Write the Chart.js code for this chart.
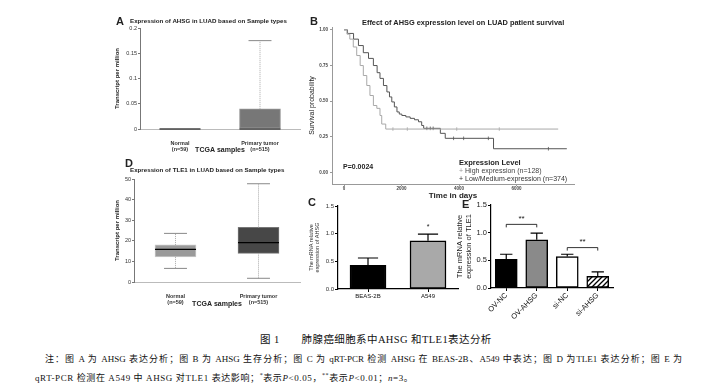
<!DOCTYPE html>
<html>
<head>
<meta charset="utf-8">
<script src="https://cdn.jsdelivr.net/npm/chart.js@4.4.1/dist/chart.umd.min.js"></script>
<style>
  body { margin: 0; background: #fff; }
  #fig { position: relative; width: 709px; height: 387px; overflow: hidden; background: #fff;
         font-family: "Liberation Sans", Arial, sans-serif; color: #222; }
  #fig canvas { position: absolute; }
  .t { position: absolute; white-space: nowrap; }
  .lt { font-size: 11px; line-height: 11px; font-weight: bold; }
  .cap { font-family: "Liberation Serif", "Noto Sans CJK SC", serif; color: #111; }
</style>
</head>
<body>
<div id="fig">
  <canvas id="cA" width="193" height="137" style="left:112px;top:20px"></canvas>
  <canvas id="cB" width="276" height="182" style="left:304px;top:19px"></canvas>
  <canvas id="cD" width="193" height="140" style="left:112px;top:171px"></canvas>
  <canvas id="cC" width="152" height="105" style="left:308px;top:200px"></canvas>
  <canvas id="cE" width="161" height="123" style="left:455px;top:199px"></canvas>

  <div class="t lt" style="left:116px;top:16px">A</div>
  <div class="t" style="left:130px;top:16.5px;font-size:6.2px;line-height:7px;font-weight:bold">Expression of AHSG in LUAD based on Sample types</div>
  <div class="t lt" style="left:310px;top:16px">B</div>
  <div class="t" style="left:362px;top:19px;font-size:7.4px;line-height:8px;font-weight:bold">Effect of AHSG expression level on LUAD patient survival</div>
  <div class="t" style="left:343px;top:163px;font-size:7px;line-height:7px;font-weight:bold">P=0.0024</div>
  <div class="t" style="left:459px;top:159px;font-size:7.5px;line-height:8px;font-weight:bold">Expression Level</div>
  <div class="t" style="left:459px;top:167px;font-size:7px;line-height:8px;color:#444"><span style="color:#999">+</span> High expression (n=128)</div>
  <div class="t" style="left:459px;top:175px;font-size:7px;line-height:8px;color:#333"><span style="color:#333">+</span> Low/Medium-expression (n=374)</div>
  <div class="t lt" style="left:125px;top:158px">D</div>
  <div class="t" style="left:130px;top:165.5px;font-size:6.2px;line-height:7px;font-weight:bold">Expression of TLE1 in LUAD based on Sample types</div>
  <div class="t lt" style="left:308px;top:197px">C</div>
  <div class="t lt" style="left:462px;top:199px">E</div>

  <div class="t cap" style="left:260px;top:334px;font-size:10.5px;line-height:12px;letter-spacing:0.4px">图 1<span style="display:inline-block;width:22px"></span>肺腺癌细胞系中AHSG 和TLE1表达分析</div>
  <div class="t cap" style="left:45px;top:353px;width:637px;font-size:9px;line-height:12px;text-align:justify;text-align-last:justify">注：图 A 为 AHSG 表达分析；图 B 为 AHSG 生存分析；图 C 为 qRT-PCR 检测 AHSG 在 BEAS-2B、A549 中表达；图 D 为TLE1 表达分析；图 E 为</div>
  <div class="t cap" style="left:35px;top:369px;font-size:9px;line-height:12px;letter-spacing:0.6px">qRT-PCR 检测在 A549 中 AHSG 对TLE1 表达影响；<sup style="font-size:6px">*</sup>表示<i>P</i>&lt;0.05，<sup style="font-size:6px">**</sup>表示<i>P</i>&lt;0.01；<i>n</i>=3。</div>
</div>

<script>
// ---- data ----
const sampleLabels = [['Normal', '(n=59)'], ['Primary tumor', '(n=515)']];

// A: AHSG TPM box plot
const ahsgMin = [0, 0];
const ahsgQ1 = [0, 0];
const ahsgMedian = [0, 0];
const ahsgQ3 = [0, 0.04];
const ahsgMax = [0, 0.175];

// D: TLE1 TPM box plot
const tle1Min = [6.6, 1.8];
const tle1Q1 = [12.2, 13.9];
const tle1Median = [15.8, 19.1];
const tle1Q3 = [18.0, 26.5];
const tle1Max = [23.6, 47.7];

// B: Kaplan-Meier curves
const survDaysHigh = [0, 100, 200, 320, 440, 560, 670, 790, 900, 1020, 1140, 1250, 1310, 1450, 7450];
const survProbHigh = [1.0, 0.97, 0.935, 0.88, 0.82, 0.75, 0.68, 0.61, 0.54, 0.47, 0.45, 0.40, 0.34, 0.305, 0.305];
const survDaysLow = [0, 120, 330, 500, 670, 850, 1020, 1150, 1250, 1370, 1490, 1580, 1660, 1750, 1840, 1920, 2010, 2150, 2300, 2450, 2590, 2700, 2770, 3350, 3520, 5200, 7750];
const survProbLow = [1.0, 0.975, 0.935, 0.89, 0.84, 0.80, 0.75, 0.70, 0.66, 0.61, 0.565, 0.53, 0.495, 0.46, 0.425, 0.41, 0.40, 0.39, 0.38, 0.37, 0.356, 0.33, 0.31, 0.275, 0.24, 0.167, 0.167];
const censorDaysHigh = [1700, 2200, 3920, 5400];
const censorProbHigh = [0.305, 0.305, 0.305, 0.305];
const censorDaysLow = [2880, 3000, 3100, 3810, 4160, 5020, 7110];
const censorProbLow = [0.31, 0.31, 0.31, 0.24, 0.24, 0.24, 0.167];
const survDayTicks = [0, 2000, 4000, 6000];
const survProbTicks = [0, 0.25, 0.5, 0.75, 1.0];

// C: AHSG mRNA by cell line
const cellLines = ['BEAS-2B', 'A549'];
const ahsgMrna = [0.43, 0.87];
const ahsgMrnaErr = [0.13, 0.12];
const starIndexC = [1];
const starLevelC = [1.12];
const starTextC = ['*'];

// E: TLE1 mRNA by group
const groupsE = ['OV-NC', 'OV-AHSG', 'si-NC', 'si-AHSG'];
const tle1Mrna = [0.52, 0.87, 0.57, 0.21];
const tle1MrnaErr = [0.09, 0.12, 0.04, 0.08];
const sigPairsE = [[0, 1], [2, 3]];
const sigLevelE = [1.15, 0.73];
const sigTextE = ['**', '**'];

Chart.defaults.font.family = '"Liberation Sans", Arial, sans-serif';
Chart.defaults.color = '#222';
Chart.defaults.animation = false;

// ---- helpers ----
const fixW = w => axis => { axis.width = w; };
const fixH = h => axis => { axis.height = h; };

const boxPlugin = {
  id: 'boxWhisk',
  afterDatasetsDraw(chart, args, o) {
    const ctx = chart.ctx, ys = chart.scales.y;
    const meta = chart.getDatasetMeta(0);
    meta.data.forEach((bar, i) => {
      const cx = bar.x, w = bar.width;
      ctx.save();
      ctx.strokeStyle = '#aaa';
      ctx.lineWidth = 1;
      ctx.setLineDash([1, 1]);
      ctx.beginPath();
      if (o.max[i] > o.q3[i]) { ctx.moveTo(cx, ys.getPixelForValue(o.q3[i])); ctx.lineTo(cx, ys.getPixelForValue(o.max[i])); }
      if (o.min[i] < o.q1[i]) { ctx.moveTo(cx, ys.getPixelForValue(o.q1[i])); ctx.lineTo(cx, ys.getPixelForValue(o.min[i])); }
      ctx.stroke();
      ctx.setLineDash([]);
      ctx.strokeStyle = '#888';
      ctx.beginPath();
      const cw = w * 0.28;
      if (o.max[i] > o.q3[i]) { const y = ys.getPixelForValue(o.max[i]); ctx.moveTo(cx - cw, y); ctx.lineTo(cx + cw, y); }
      if (o.min[i] < o.q1[i]) { const y = ys.getPixelForValue(o.min[i]); ctx.moveTo(cx - cw, y); ctx.lineTo(cx + cw, y); }
      ctx.stroke();
      ctx.strokeStyle = o.medColor;
      ctx.lineWidth = 1.3;
      ctx.beginPath();
      const ym = ys.getPixelForValue(o.med[i]);
      ctx.moveTo(cx - w / 2, ym); ctx.lineTo(cx + w / 2, ym);
      ctx.stroke();
      ctx.restore();
    });
  }
};

const errPlugin = {
  id: 'errBars',
  afterDatasetsDraw(chart, args, o) {
    const ctx = chart.ctx, ys = chart.scales.y;
    const meta = chart.getDatasetMeta(0);
    ctx.save();
    ctx.strokeStyle = '#000';
    ctx.lineWidth = 1.2;
    meta.data.forEach((bar, i) => {
      const cx = bar.x, cw = bar.width * 0.28;
      const y0 = ys.getPixelForValue(o.values[i]);
      const y1 = ys.getPixelForValue(o.values[i] + o.errors[i]);
      ctx.beginPath();
      ctx.moveTo(cx, y0); ctx.lineTo(cx, y1);
      ctx.moveTo(cx - cw, y1); ctx.lineTo(cx + cw, y1);
      ctx.stroke();
    });
    ctx.fillStyle = '#111';
    ctx.textAlign = 'center';
    ctx.textBaseline = 'middle';
    ctx.font = (o.starSize || 8) + 'px "Liberation Sans", Arial';
    (o.pairs || []).forEach((p, k) => {
      const xa = meta.data[p[0]].x, xb = meta.data[p[1]].x;
      const y = ys.getPixelForValue(o.levels[k]);
      ctx.beginPath();
      ctx.moveTo(xa, y + 3); ctx.lineTo(xa, y); ctx.lineTo(xb, y); ctx.lineTo(xb, y + 3);
      ctx.lineWidth = 0.8;
      ctx.stroke();
      ctx.fillText(o.texts[k], (xa + xb) / 2, y - 6);
    });
    (o.starIdx || []).forEach((idx, k) => {
      ctx.fillText(o.starTexts[k], meta.data[idx].x, ys.getPixelForValue(o.starLevels[k]));
    });
    ctx.restore();
  }
};

function hatch() {
  const c = document.createElement('canvas');
  c.width = 5; c.height = 5;
  const g = c.getContext('2d');
  g.fillStyle = '#fff'; g.fillRect(0, 0, 5, 5);
  g.strokeStyle = '#000'; g.lineWidth = 1.3;
  g.beginPath();
  g.moveTo(0, 5); g.lineTo(5, 0);
  g.moveTo(-1, 1); g.lineTo(1, -1);
  g.moveTo(4, 6); g.lineTo(6, 4);
  g.stroke();
  return g.createPattern(c, 'repeat');
}

function boxChart(id, yw, xh, ymax, step, q1, q3, colors, borders, opts, tickFmt) {
  return new Chart(document.getElementById(id).getContext('2d'), {
    type: 'bar',
    data: {
      labels: sampleLabels,
      datasets: [{
        data: q1.map((v, i) => [v, q3[i]]),
        backgroundColor: colors,
        borderColor: borders,
        borderWidth: 1,
        borderSkipped: false,
        barThickness: 41
      }]
    },
    options: {
      responsive: false,
      layout: { padding: { top: 8, right: 5, left: 0, bottom: 0 } },
      plugins: { legend: { display: false }, tooltip: { enabled: false }, boxWhisk: opts },
      scales: {
        x: {
          afterFit: fixH(xh),
          grid: { display: false },
          border: { color: '#bbb', width: 1 },
          ticks: { font: { size: 5.5, weight: 'bold' }, padding: 3, color: '#333' },
          title: { display: true, text: 'TCGA samples', font: { size: 7, weight: 'bold' }, padding: { top: 0, bottom: 3 } }
        },
        y: {
          min: 0, max: ymax,
          afterFit: fixW(yw),
          grid: { drawOnChartArea: false, tickLength: 2, color: '#777' },
          border: { color: '#777', width: 1 },
          ticks: { stepSize: step, font: { size: 5.5 }, padding: 1, color: '#333', callback: tickFmt },
          title: { display: true, text: 'Transcript per million', font: { size: 6, weight: 'bold' }, padding: { top: 2, bottom: 0 } }
        }
      }
    },
    plugins: [boxPlugin]
  });
}

// ---- A ----
boxChart('cA', 28, 28, 0.2, 0.05, ahsgQ1, ahsgQ3, ['#777', '#777'], ['#555', '#999'],
  { min: ahsgMin, q1: ahsgQ1, med: ahsgMedian, q3: ahsgQ3, max: ahsgMax, medColor: '#444' },
  v => Math.round(v * 100) / 100);

// ---- D ----
boxChart('cD', 22, 29, 50, 10, tle1Q1, tle1Q3, ['#9a9a9a', '#474747'], ['#c8c8c8', '#777'],
  { min: tle1Min, q1: tle1Q1, med: tle1Median, q3: tle1Q3, max: tle1Max, medColor: '#000' },
  v => v);

// ---- B ----
new Chart(document.getElementById('cB').getContext('2d'), {
  type: 'line',
  data: {
    datasets: [
      { data: survDaysHigh.map((d, i) => ({ x: d, y: survProbHigh[i] })), borderColor: '#a8a8a8', borderWidth: 1, pointRadius: 0, stepped: true, fill: false },
      { data: survDaysLow.map((d, i) => ({ x: d, y: survProbLow[i] })), borderColor: '#555', borderWidth: 1, pointRadius: 0, stepped: true, fill: false },
      { type: 'scatter', data: censorDaysHigh.map((d, i) => ({ x: d, y: censorProbHigh[i] })), pointStyle: 'line', rotation: 90, radius: 1.8, borderColor: '#a8a8a8', borderWidth: 0.8 },
      { type: 'scatter', data: censorDaysLow.map((d, i) => ({ x: d, y: censorProbLow[i] })), pointStyle: 'line', rotation: 90, radius: 1.8, borderColor: '#555', borderWidth: 0.8 }
    ]
  },
  options: {
    responsive: false,
    layout: { padding: { top: 8, right: 6, left: 0, bottom: 0 } },
    plugins: { legend: { display: false }, tooltip: { enabled: false } },
    scales: {
      x: {
        type: 'linear', min: -420, max: 8000,
        afterFit: fixH(17),
        afterBuildTicks: axis => { axis.ticks = survDayTicks.map(v => ({ value: v })); },
        grid: { drawOnChartArea: false, tickLength: 2, color: '#999' },
        border: { color: '#999', width: 1 },
        ticks: { font: { size: 4.5, weight: 'bold' }, padding: 0, color: '#444', callback: v => String(v) },
        title: { display: true, text: 'Time in days', font: { size: 8, weight: 'bold' }, padding: 0 }
      },
      y: {
        min: -0.08, max: 1.02,
        afterFit: fixW(28),
        afterBuildTicks: axis => { axis.ticks = survProbTicks.map(v => ({ value: v })); },
        grid: { drawOnChartArea: false, tickLength: 2, color: '#999' },
        border: { color: '#999', width: 1 },
        ticks: { font: { size: 4.5, weight: 'bold' }, padding: 2, color: '#444', callback: v => v.toFixed(2) },
        title: { display: true, text: 'Survival probability', font: { size: 7 }, padding: { top: 4, bottom: 0 } }
      }
    }
  }
});

// ---- C ----
new Chart(document.getElementById('cC').getContext('2d'), {
  type: 'bar',
  data: {
    labels: cellLines,
    datasets: [{ data: ahsgMrna, backgroundColor: ['#000', '#a9a9a9'], borderColor: '#000', borderWidth: 1.5, borderSkipped: false, barThickness: 36 }]
  },
  options: {
    responsive: false,
    layout: { padding: { top: 6, right: 2, left: 0, bottom: 0 } },
    plugins: {
      legend: { display: false }, tooltip: { enabled: false },
      errBars: { values: ahsgMrna, errors: ahsgMrnaErr, starIdx: starIndexC, starLevels: starLevelC, starTexts: starTextC, starSize: 7 }
    },
    scales: {
      x: {
        afterFit: fixH(16),
        grid: { drawOnChartArea: false, offset: false, tickLength: 3, color: '#000' },
        border: { color: '#000', width: 1.2 },
        ticks: { font: { size: 6 }, padding: 1, color: '#111' }
      },
      y: {
        min: 0, max: 1.5,
        afterFit: fixW(30),
        grid: { drawOnChartArea: false, tickLength: 3, color: '#000' },
        border: { color: '#000', width: 1.2 },
        ticks: { stepSize: 0.5, font: { size: 6 }, padding: 1, color: '#333', callback: v => v.toFixed(1) },
        title: { display: true, text: ['The mRNA relative', 'expression of AHSG'], font: { size: 5.5 }, padding: 0, color: '#333' }
      }
    }
  },
  plugins: [errPlugin]
});

// ---- E ----
new Chart(document.getElementById('cE').getContext('2d'), {
  type: 'bar',
  data: {
    labels: groupsE,
    datasets: [{ data: tle1Mrna, backgroundColor: ['#000', '#8a8a8a', '#fff', hatch()], borderColor: '#000', borderWidth: 1.5, borderSkipped: false, barThickness: 22 }]
  },
  options: {
    responsive: false,
    layout: { padding: { top: 6, right: 3, left: 0, bottom: 0 } },
    plugins: {
      legend: { display: false }, tooltip: { enabled: false },
      errBars: { values: tle1Mrna, errors: tle1MrnaErr, pairs: sigPairsE, levels: sigLevelE, texts: sigTextE, starSize: 8 }
    },
    scales: {
      x: {
        afterFit: fixH(34),
        grid: { drawOnChartArea: false, offset: false, tickLength: 3, color: '#000' },
        border: { color: '#000', width: 1.2 },
        ticks: { font: { size: 7.5 }, padding: 0, color: '#111', minRotation: 45, maxRotation: 45, autoSkip: false }
      },
      y: {
        min: 0, max: 1.5,
        afterFit: fixW(36),
        grid: { drawOnChartArea: false, tickLength: 3, color: '#000' },
        border: { color: '#000', width: 1.2 },
        ticks: { stepSize: 0.5, font: { size: 7.5 }, padding: 1, color: '#222', callback: v => v.toFixed(1) },
        title: { display: true, text: ['The mRNA relative', 'expression of TLE1'], font: { size: 7.5 }, padding: 0, color: '#222' }
      }
    }
  },
  plugins: [errPlugin]
});
</script>
</body>
</html>
